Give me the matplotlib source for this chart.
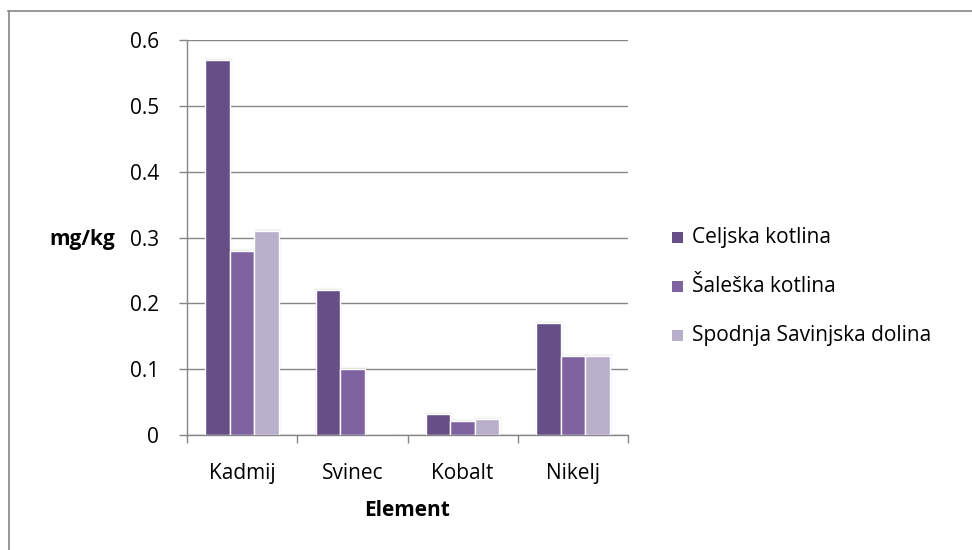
import matplotlib
matplotlib.use("Agg")
import matplotlib.pyplot as plt
from matplotlib.lines import Line2D
from matplotlib.patches import Rectangle
import numpy as np

elements = ["Kadmij", "Svinec", "Kobalt", "Nikelj"]
series_names = ["Celjska kotlina", "Šaleška kotlina", "Spodnja Savinjska dolina"]
celjska = [0.57, 0.22, 0.032, 0.17]
saleska = [0.28, 0.10, 0.022, 0.12]
spodnja = [0.31, 0.0, 0.025, 0.12]
y_ticks = [0, 0.1, 0.2, 0.3, 0.4, 0.5, 0.6]
y_tick_labels = ["0", "0.1", "0.2", "0.3", "0.4", "0.5", "0.6"]

colors = ["#664F87", "#7F63A1", "#B8AFCB"]
grid_color = "#868686"
fs = 15

plt.rcParams["font.family"] = ["Open Sans", "DejaVu Sans"]

fig = plt.figure(figsize=(9.72, 5.5), dpi=100)
W, H = 972, 550
ax = fig.add_axes([187 / W, 1 - 435 / H, (628 - 187) / W, (435 - 40) / H])

n = len(series_names)
bar_w = 1 / 4.5
x = np.arange(len(elements))
for i, (vals, c) in enumerate(zip([celjska, saleska, spodnja], colors)):
    offs = (i - (n - 1) / 2) * bar_w
    for xi, v in zip(x + offs, vals):
        if v <= 0:
            continue
        # soft shadow behind each bar
        for k, a in enumerate([0.07, 0.04, 0.02]):
            d = 0.01 * (k + 1)
            ax.add_patch(Rectangle((xi - bar_w / 2 - d * 0.2, 0), bar_w + d * 1.2,
                                   v + 0.0015 * (k + 1), facecolor="#808080",
                                   edgecolor="none", alpha=a, zorder=2))
    ax.bar(x + offs, vals, width=bar_w, color=c, edgecolor="white",
           linewidth=1.0, zorder=3, label=series_names[i])

ax.set_xlim(-0.5, len(elements) - 0.5)
ax.set_ylim(0, 0.6)
ax.set_yticks(y_ticks)
ax.set_yticklabels(y_tick_labels)
ax.yaxis.grid(True, color=grid_color, linewidth=1.0, zorder=0)
ax.set_axisbelow(True)

ax.set_xticks(x)
ax.set_xticklabels(elements)
ax.set_xticks(np.arange(-0.5, len(elements)), minor=True)
ax.tick_params(axis="x", which="major", length=0, pad=20, labelsize=fs)
ax.tick_params(axis="x", which="minor", length=6, width=1, color=grid_color,
               direction="out")
ax.tick_params(axis="y", length=6, width=1, color=grid_color, pad=14,
               labelsize=fs)

for s in ["top", "right"]:
    ax.spines[s].set_visible(False)
for s in ["left", "bottom"]:
    ax.spines[s].set_color(grid_color)
    ax.spines[s].set_linewidth(1.0)

fig.text(82 / W, 1 - 240 / H, "mg/kg", ha="center", va="center",
         fontsize=fs, fontweight="bold")
fig.text(407 / W, 1 - 511 / H, "Element", ha="center", va="center",
         fontsize=fs, fontweight="bold")

# legend
for i, (name, c) in enumerate(zip(series_names, colors)):
    yc = 1 - (237 + 49 * i) / H
    fig.patches.append(Rectangle((672 / W, yc - 5.5 / H), 11 / W, 11 / H,
                                 facecolor=c, edgecolor="none",
                                 transform=fig.transFigure, figure=fig))
    fig.text(692 / W, yc, name, ha="left", va="center", fontsize=fs)

# chart frame (top and left edges)
fig.add_artist(Line2D([8 / W, 1.0], [1 - 10.5 / H, 1 - 10.5 / H],
                      transform=fig.transFigure, color=grid_color, linewidth=1.2))
fig.add_artist(Line2D([8.5 / W, 8.5 / W], [0, 1 - 10.5 / H],
                      transform=fig.transFigure, color=grid_color, linewidth=1.2))

fig.savefig("out.png", dpi=100)
